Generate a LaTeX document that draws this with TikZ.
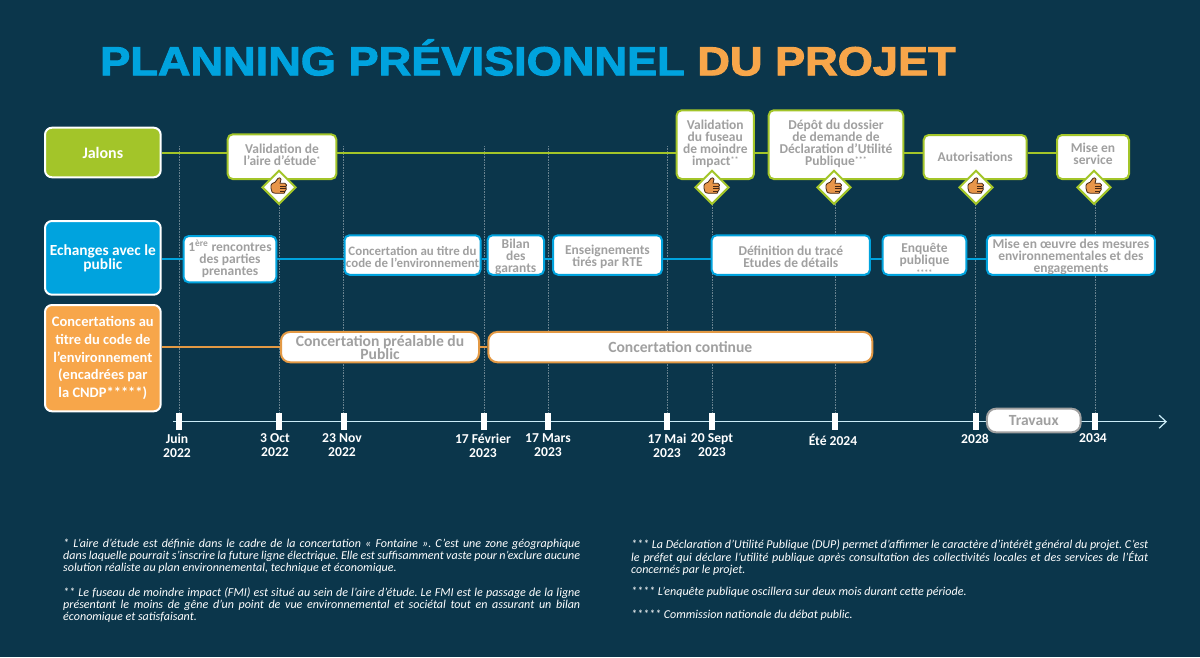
\documentclass[tikz,border=0pt]{standalone}
\usepackage{fontspec}
\usepackage{tikz}
\usepackage{xcolor}
\usetikzlibrary{arrows.meta,positioning,shapes.geometric,backgrounds}
\setmainfont{Carlito}
\newfontfamily\titlefont[FakeStretch=1.115,FakeBold=2.4]{Liberation Sans Bold}
\definecolor{DeepNavy}{RGB}{11,54,75}
\definecolor{SoftGreen}{RGB}{163,197,41}
\definecolor{SoftBlue}{RGB}{0,163,222}
\definecolor{SoftOrange}{RGB}{247,166,74}
\definecolor{BoxGrey}{RGB}{160,160,160}
\definecolor{ThumbFill}{RGB}{232,150,74}
\definecolor{ThumbEdge}{RGB}{70,40,20}
\newcommand{\starmark}[1]{\raisebox{3pt}{\fontsize{8}{12}\selectfont #1}}
\tikzset{
  headbox/.style={draw=white, line width=2pt, rounded corners=7pt, minimum width=115.7pt, text=white, align=center, inner sep=1pt, font=\bfseries\fontsize{14.5}{15.5}\selectfont},
  planbox/.style={draw, fill=white, line width=2pt, rounded corners=5pt, text=BoxGrey, align=center, inner sep=1pt, execute at begin node={\lineskiplimit=-10pt}, font=\bfseries\fontsize{13.5}{12}\selectfont},
  greenbox/.style={planbox, draw=SoftGreen},
  bluebox/.style={planbox, draw=SoftBlue, inner ysep=0pt, minimum height=39.5pt},
  orangebox/.style={planbox, draw=SoftOrange!92!black, rounded corners=9pt, minimum height=30.3pt, font=\bfseries\fontsize{15.6}{13}\selectfont},
  okmark/.style={draw=SoftGreen, fill=white, diamond, line width=2pt, minimum width=34pt, minimum height=34pt, inner sep=0pt},
  tickmark/.style={fill=white, minimum width=6pt, minimum height=17pt, inner sep=0pt},
  datelabel/.style={text=white, align=center, inner sep=0pt, font=\bfseries\fontsize{13.6}{14}\selectfont},
  footnote/.style={anchor=north west, text=white, text width=517pt, align=justify, inner sep=0pt, font=\itshape\fontsize{12.05}{12}\selectfont\frenchspacing},
  guide/.style={white!38!DeepNavy, densely dotted, line width=0.6pt},
  thumbup/.pic={
    \draw[fill=ThumbFill, draw=ThumbEdge, line width=0.8pt, line join=round] (-8,-2) .. controls (-8,-4) and (-6,-4) .. (-4,-5) -- (-1,-9) .. controls (0,-10) and (2,-9.5) .. (2,-8) -- (1,-4) -- (6,-4) .. controls (8,-3) and (8,-1) .. (7,-1) .. controls (8,1) and (7,4) .. (6,4) .. controls (6,6) and (5,6) .. (4,6) -- (-3,6) .. controls (-7,6) and (-8,4) .. (-8,1) -- cycle;
    \draw[draw=ThumbEdge, line width=0.7pt] (1,-1) -- (7,-1) (1,1.5) -- (7,1.5) (1,4) -- (6,4);
  }
}

\begin{document}
\begin{tikzpicture}[x=1pt, y=-1pt, node distance=7pt]
\useasboundingbox (0,0) rectangle (1200,657);

% titre
\node[anchor=west, inner sep=0pt, font=\titlefont\fontsize{40.5}{40.5}\selectfont] (title) at (100,57.5) {\textcolor{SoftBlue}{PLANNING PRÉVISIONNEL} \textcolor{SoftOrange}{DU PROJET}};

% colonne de gauche
\node[headbox, fill=SoftGreen, minimum height=49.6pt, font=\bfseries\fontsize{16}{16}\selectfont] (jalons) at (102.85,152.5) {Jalons};
\node[headbox, fill=SoftBlue, minimum height=73.7pt, font=\bfseries\fontsize{15.4}{14}\selectfont] (echanges) at (102.85,257.85) {Echanges avec le\\public};
\node[headbox, fill=SoftOrange, minimum height=106.3pt, font=\bfseries\fontsize{14.5}{17.6}\selectfont] (concert) at (102.85,358.15) {Concertations au\\titre du code de\\l’environnement\\(encadrées par\\la CNDP*****)};

% jalons
\node[greenbox, minimum width=108.6pt, minimum height=44.7pt, text depth=3pt] (aire) at (282,156.7) {Validation de\\l’aire d’étude\starmark{*}};
\node[greenbox, minimum width=77.3pt, minimum height=68.7pt, text depth=4.7pt] (fuseau) at (715.3,144.65) {Validation\\du fuseau\\de moindre\\impact\starmark{**}};
\node[greenbox, minimum width=134.6pt, minimum height=68.7pt, text depth=4.7pt] (depot) at (836,144.65) {Dépôt du dossier\\de demande de\\Déclaration d’Utilité\\Publique\starmark{***}};
\node[greenbox, minimum width=103pt, minimum height=44pt] (autor) at (975.2,157) {Autorisations};
\node[greenbox, minimum width=72pt, minimum height=44pt, text depth=6pt] (service) at (1093,157) {Mise en\\service};

\foreach \n/\x in {aire/279,fuseau/712,depot/834,autor/976,service/1094}{
  \node[okmark] (ok\n) at (\x,187.3) {};
  \pic at (ok\n) {thumbup};
}

% echanges avec le public
\node[bluebox, minimum width=92.6pt, minimum height=46.3pt, text height=35pt] (rencontres) at (230,259.2) {1\textsuperscript{ère} rencontres\\des parties\\prenantes};
\node[bluebox, minimum width=136pt, text height=25pt, font=\bfseries\fontsize{12.9}{12}\selectfont] (titrecode) at (412.5,255) {Concertation au titre du\\code de l’environnement};
\node[bluebox, minimum width=56.5pt, right=5pt of titrecode, text height=36.5pt] (bilan) {Bilan\\des\\garants};
\node[bluebox, minimum width=109pt, right=of bilan, text height=26pt] (enseign) {Enseignements\\tirés par RTE};
\node[bluebox, minimum width=158.3pt, text height=25pt] (trace) at (790.8,255) {Définition du tracé\\Etudes de détails};
\node[bluebox, minimum width=83.6pt, right=10.7pt of trace, text depth=2pt] (enquete) {Enquête\\publique\\[-12pt]\raisebox{-11pt}[0pt][0pt]{\fontsize{8}{12}\selectfont ****}};
\node[bluebox, minimum width=168pt, right=18.7pt of enquete, text height=36.5pt] (mesures) {Mise en œuvre des mesures\\environnementales et des\\engagements};

% concertations
\node[orangebox, minimum width=198pt] (prealable) at (380,347.1) {Concertation préalable du\\Public};
\node[orangebox, minimum width=384pt, right=7.3pt of prealable] (continue) {Concertation continue};

% axe du temps
\coordinate (axestart) at (173,421.7);
\coordinate (axeend) at (1167,421.7);
\foreach \n/\x/\lx/\d in {a/179.3/177/{Juin\\2022},b/279/275/{3 Oct\\2022},c/343.5/342/{23 Nov\\2022},d/484/483/{17 Février\\2023},e/548/548/{17 Mars\\2023},f/667/667/{17 Mai\\2023},g/712/712/{20 Sept\\2023},h/835/833/{Été 2024},i/975.5/975/{2028},j/1095/1093/{2034}}{
  \node[tickmark] (tick\n) at (\x,421.7) {};
  \node[datelabel, anchor=north] (date\n) at (\lx,433.5) {\d};
}
\node[planbox, draw=BoxGrey, minimum width=93.7pt, minimum height=23.6pt, rounded corners=9pt, font=\bfseries\fontsize{15.5}{15.5}\selectfont] (travaux) at (1033.8,420.5) {Travaux};

% notes
\node[footnote] (noteone) at (63,539) {* L’aire d’étude est définie dans le cadre de la concertation «~Fontaine~». C’est une zone géographique\linebreak dans laquelle pourrait s’inscrire la future ligne électrique. Elle est suffisamment vaste pour n’exclure aucune\linebreak solution réaliste au plan environnemental, technique et économique.};
\node[footnote] (notetwo) at (63,587) {** Le fuseau de moindre impact (FMI) est situé au sein de l’aire d’étude. Le FMI est le passage de la ligne\linebreak présentant le moins de gêne d’un point de vue environnemental et sociétal tout en assurant un bilan\linebreak économique et satisfaisant.};
\node[footnote] (notethree) at (631,539) {*** La Déclaration d’Utilité Publique (DUP) permet d’affirmer le caractère d’intérêt général du projet. C’est\linebreak le préfet qui déclare l’utilité publique après consultation des collectivités locales et des services de l’État\linebreak concernés par le projet.};
\node[footnote] (notefour) at (631,587) {**** L’enquête publique oscillera sur deux mois durant cette période.};
\node[footnote] (notefive) at (631,610) {***** Commission nationale du débat public.};

\begin{pgfonlayer}{background}
\fill[DeepNavy] (0,0) rectangle (1200,657);
\foreach \n in {a,b,c,d,e,f,g,h,i,j}
  \draw[guide] (tick\n.center) -- (tick\n.center |- 0,146);
\foreach \a/\b in {jalons/aire,aire/fuseau,fuseau/depot,depot/autor,autor/service}
  \draw[SoftGreen, line width=2pt] (\a.east |- jalons) -- (\b.west |- jalons);
\foreach \a/\b in {echanges/rencontres,rencontres/titrecode,titrecode/bilan,bilan/enseign,enseign/trace,trace/enquete,enquete/mesures}
  \draw[SoftBlue, line width=2pt] (\a.east |- 0,258.5) -- (\b.west |- 0,258.5);
\foreach \a/\b in {concert/prealable,prealable/continue}
  \draw[SoftOrange!92!black, line width=2pt] (\a.east |- prealable) -- (\b.west |- prealable);
\draw[white!80!SoftBlue, line width=1.2pt, -{Straight Barb[length=7pt,width=13pt]}] (axestart) -- (axeend);
\end{pgfonlayer}
\end{tikzpicture}
\end{document}
